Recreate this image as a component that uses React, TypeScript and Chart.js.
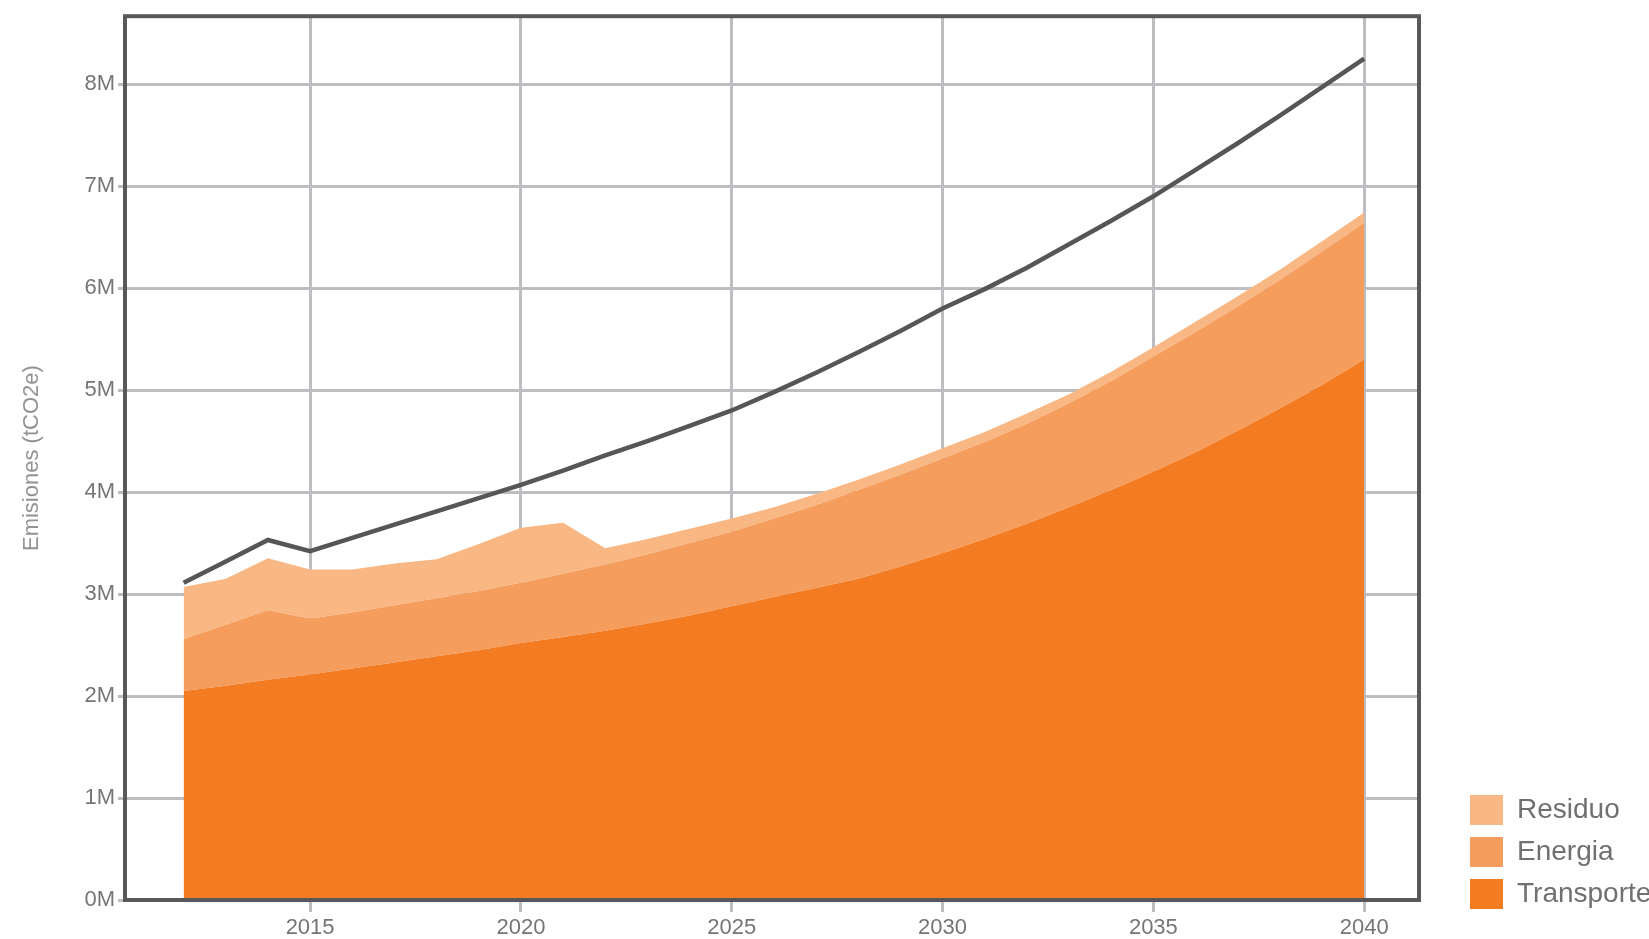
import React, { useEffect, useRef } from 'react';
import { Chart, registerables } from 'chart.js';

Chart.register(...registerables);

const years = [2012, 2013, 2014, 2015, 2016, 2017, 2018, 2019, 2020, 2021, 2022, 2023, 2024, 2025, 2026, 2027, 2028, 2029, 2030, 2031, 2032, 2033, 2034, 2035, 2036, 2037, 2038, 2039, 2040];

const transporte = [2050000, 2100000, 2160000, 2210000, 2270000, 2330000, 2390000, 2450000, 2520000, 2580000, 2640000, 2710000, 2790000, 2880000, 2970000, 3060000, 3150000, 3270000, 3400000, 3540000, 3690000, 3850000, 4020000, 4200000, 4390000, 4600000, 4820000, 5050000, 5300000];

const energia = [510000, 600000, 680000, 550000, 550000, 560000, 570000, 580000, 590000, 620000, 650000, 680000, 710000, 730000, 770000, 810000, 870000, 900000, 930000, 950000, 980000, 1020000, 1070000, 1130000, 1180000, 1220000, 1260000, 1310000, 1340000];

const residuo = [510000, 450000, 510000, 480000, 420000, 410000, 380000, 460000, 540000, 500000, 160000, 150000, 140000, 130000, 110000, 110000, 100000, 100000, 100000, 100000, 100000, 90000, 90000, 90000, 100000, 100000, 100000, 100000, 100000];

const total = [3110000, 3320000, 3530000, 3420000, 3550000, 3680000, 3810000, 3940000, 4070000, 4210000, 4360000, 4500000, 4650000, 4800000, 4980000, 5170000, 5370000, 5580000, 5800000, 5990000, 6200000, 6430000, 6660000, 6900000, 7160000, 7420000, 7690000, 7970000, 8250000];

const xTickValues = [2015, 2020, 2025, 2030, 2035, 2040];
const yTickValues = [0, 1000000, 2000000, 3000000, 4000000, 5000000, 6000000, 7000000, 8000000];

const FONT = "'Liberation Sans', Arial, sans-serif";
const GRID = '#bdbdc1';
const TICK_COLOR = '#757575';

export default function App() {
  const ref = useRef<HTMLCanvasElement>(null);

  useEffect(() => {
    const canvas = ref.current;
    if (!canvas) return;
    Chart.defaults.font.family = FONT;

    const frame = {
      id: 'frame',
      afterLayout(chart: any) {
        const lg = chart.legend;
        if (lg) {
          lg.bottom = lg.bottom - 18;
          lg.height = lg.bottom - lg.top;
        }
      },
      afterDatasetsDraw(chart: any) {
        const { ctx, chartArea: a } = chart;
        ctx.save();
        ctx.strokeStyle = '#58585b';
        ctx.lineWidth = 4;
        ctx.strokeRect(a.left, a.top, a.right - a.left, a.bottom - a.top);
        ctx.restore();
      },
    };

    const chart = new Chart(canvas, {
      type: 'line',
      data: {
        labels: years,
        datasets: [
          {
            label: 'Transporte',
            data: transporte,
            backgroundColor: '#F37B22',
            borderColor: 'rgba(0,0,0,0)',
            borderWidth: 0,
            fill: 'origin',
            pointRadius: 0,
            stack: 'areas',
            yAxisID: 'y',
            xAxisID: 'x',
            order: 1,
          },
          {
            label: 'Energia',
            data: energia,
            backgroundColor: '#F59D5C',
            borderColor: 'rgba(0,0,0,0)',
            borderWidth: 0,
            fill: '-1',
            pointRadius: 0,
            stack: 'areas',
            yAxisID: 'y',
            xAxisID: 'x',
            order: 1,
          },
          {
            label: 'Residuo',
            data: residuo,
            backgroundColor: '#F9B784',
            borderColor: 'rgba(0,0,0,0)',
            borderWidth: 0,
            fill: '-1',
            pointRadius: 0,
            stack: 'areas',
            yAxisID: 'y',
            xAxisID: 'x',
            order: 1,
          },
          {
            label: 'Total',
            data: total,
            borderColor: '#565656',
            backgroundColor: '#565656',
            borderWidth: 4.5,
            fill: false,
            pointRadius: 0,
            tension: 0,
            stack: 'total',
            yAxisID: 'y',
            xAxisID: 'x',
            order: 0,
          },
        ],
      },
      options: {
        animation: false,
        responsive: false,
        devicePixelRatio: 1,
        events: [],
        layout: { padding: { top: 15, bottom: 0, left: 0, right: 0 } },
        plugins: {
          tooltip: { enabled: false },
          legend: {
            position: 'right',
            align: 'end',
            reverse: true,
            maxWidth: 191,
            labels: {
              boxWidth: 33,
              boxHeight: 30,
              padding: 12,
              color: '#707070',
              font: { family: FONT, size: 28 },
              filter: (item: any) => item.text !== 'Total',
            },
          },
        },
        scales: {
          x: {
            type: 'linear',
            position: 'bottom',
            min: 2010.61,
            max: 2041.3,
            afterBuildTicks: (s: any) => {
              s.ticks = xTickValues.map((v) => ({ value: v }));
            },
            afterFit: (s: any) => {
              s.height = 39;
            },
            ticks: {
              callback: (v: any) => String(v),
              color: TICK_COLOR,
              font: { family: FONT, size: 22 },
              padding: 3,
              maxRotation: 0,
              autoSkip: false,
            },
            grid: { color: GRID, lineWidth: 3, tickLength: 12 },
            border: { display: false },
          },
          y: {
            type: 'linear',
            position: 'left',
            stacked: true,
            min: 0,
            max: 8666000,
            afterBuildTicks: (s: any) => {
              s.ticks = yTickValues.map((v) => ({ value: v }));
            },
            afterFit: (s: any) => {
              s.width = 125;
            },
            ticks: {
              callback: (v: any) => `${Math.round(Number(v) / 1000000)}M`,
              color: TICK_COLOR,
              font: { family: FONT, size: 22 },
              padding: 3,
              autoSkip: false,
            },
            grid: { color: GRID, lineWidth: 3, tickLength: 7 },
            border: { display: false },
            title: {
              display: true,
              text: 'Emisiones (tCO2e)',
              color: '#929292',
              font: { family: FONT, size: 22 },
              padding: { top: 19, bottom: 0 },
            },
          },
          pad: {
            type: 'linear',
            position: 'right',
            display: true,
            grid: { display: false },
            border: { display: false },
            ticks: { display: false },
            afterFit: (s: any) => {
              s.width = 39;
            },
          },
        },
      } as any,
      plugins: [frame],
    });

    return () => {
      chart.destroy();
    };
  }, []);

  return (
    <canvas
      ref={ref}
      width={1649}
      height={939}
      style={{ position: 'absolute', left: 0, top: 0, display: 'block', background: '#ffffff' }}
    />
  );
}
